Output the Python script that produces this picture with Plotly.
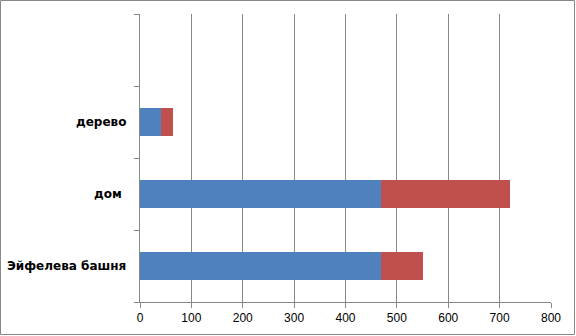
import plotly.graph_objects as go

categories = ["Эйфелева башня", "дом ", "дерево"]
series1 = [470, 470, 40]
series2 = [80, 250, 25]
n_slots = 4
x_ticks = [0, 100, 200, 300, 400, 500, 600, 700, 800]

W, H = 576, 336
ML, MR, MT, MB = 140, 25, 14, 34
pw, ph = W - ML - MR, H - MT - MB

ypos = list(range(len(categories)))

fig = go.Figure()
fig.add_trace(go.Bar(y=ypos, x=series1, orientation="h", marker_color="#4F81BD",
                     marker_line_width=0, width=0.4))
fig.add_trace(go.Bar(y=ypos, x=series2, orientation="h", marker_color="#C0504D",
                     marker_line_width=0, width=0.4))

for i, c in enumerate(categories):
    fig.add_annotation(x=0, xref="paper", y=i, yref="y", text="<b>" + c.replace(" ", "&nbsp;") + "</b>",
                       xanchor="right", xshift=-12, showarrow=False,
                       font=dict(family="DejaVu Sans", size=12, color="#000000"))

fig.update_layout(
    barmode="stack",
    width=W, height=H,
    margin=dict(l=ML, r=MR, t=MT, b=MB),
    paper_bgcolor="white", plot_bgcolor="white",
    showlegend=False,
    xaxis=dict(range=[0, 800], tickvals=x_ticks, ticktext=[str(v) for v in x_ticks],
               showgrid=True, gridcolor="#878787", gridwidth=1,
               showline=True, linecolor="#878787", linewidth=1,
               ticks="outside", ticklen=5, tickcolor="#878787",
               tickfont=dict(family="Liberation Sans", size=12, color="#000000"),
               zeroline=False, fixedrange=True),
    yaxis=dict(range=[-0.5, n_slots - 0.5], tickvals=[k - 0.5 for k in range(n_slots + 1)],
               showticklabels=False, showgrid=False,
               showline=True, linecolor="#878787", linewidth=1,
               ticks="outside", ticklen=5, tickcolor="#878787",
               zeroline=False, fixedrange=True),
)

fig.add_shape(type="rect", xref="paper", yref="paper",
              x0=(0.5 - ML) / pw, x1=(W - 1.5 - ML) / pw,
              y0=-(MB - 1.5) / ph, y1=1 + (MT - 0.5) / ph,
              line=dict(color="#888888", width=1), layer="above")

fig.write_html("out.html")
